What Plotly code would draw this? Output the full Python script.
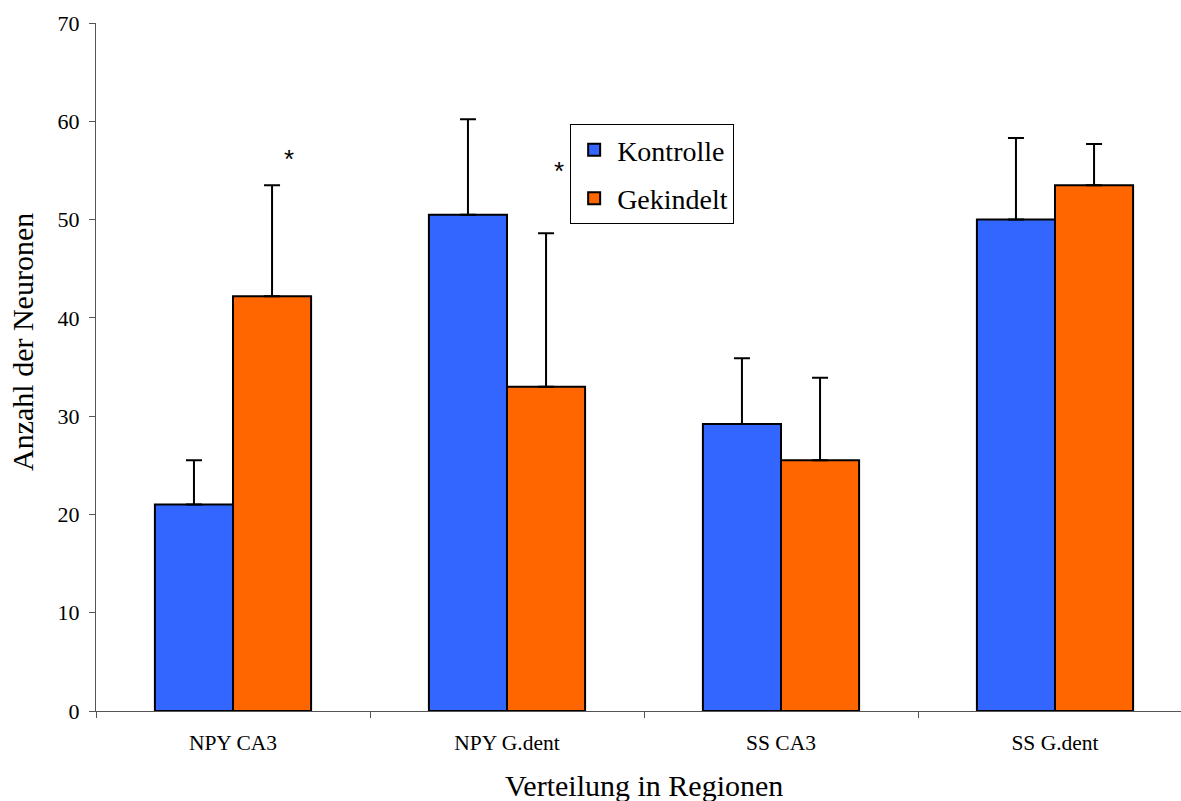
import plotly.graph_objects as go

categories = ["NPY CA3", "NPY G.dent", "SS CA3", "SS G.dent"]
kontrolle = [21.0, 50.5, 29.2, 50.0]
kontrolle_err = [4.5, 9.7, 6.7, 8.3]
gekindelt = [42.2, 33.0, 25.5, 53.5]
gekindelt_err = [11.3, 15.6, 8.4, 4.2]
y_ticks = [0, 10, 20, 30, 40, 50, 60, 70]

FONT = "Liberation Serif"

fig = go.Figure()
fig.add_trace(go.Bar(
    name="Kontrolle", x=categories, y=kontrolle, legendgroup="a",
    marker=dict(color="#3366FF", line=dict(color="black", width=2)),
    error_y=dict(type="data", array=kontrolle_err, arrayminus=[0]*4, symmetric=False,
                 color="black", thickness=2, width=8),
))
fig.add_trace(go.Bar(
    name="Gekindelt", x=categories, y=gekindelt, legendgroup="b",
    marker=dict(color="#FF6600", line=dict(color="black", width=2)),
    error_y=dict(type="data", array=gekindelt_err, arrayminus=[0]*4, symmetric=False,
                 color="black", thickness=2, width=8),
))

fig.add_annotation(x=0.204, y=56.2, text="*", showarrow=False, font=dict(size=26, color="black", family="Liberation Sans"))
fig.add_annotation(x=1.19, y=54.9, text="*", showarrow=False, font=dict(size=26, color="black", family="Liberation Sans"))

# axis titles as annotations (x title centred on the full category axis)
fig.add_annotation(x=1.5, xref="x", y=785, yref="paper", text="Verteilung in Regionen",
                   xanchor="center", yanchor="middle",
                   showarrow=False, font=dict(size=30, family=FONT, color="black"))
fig.add_annotation(x=22, xref="paper", y=342, yref="paper", text="Anzahl der Neuronen",
                   xanchor="center", yanchor="middle",
                   textangle=-90, showarrow=False, font=dict(size=30, family=FONT, color="black"))

# convert pixel positions to paper coordinates
L, R, T, B = 96, 0, 23, 90
pw, ph = 1181 - L - R, 801 - T - B
for a in fig.layout.annotations:
    if a.yref == "paper" and a.y > 1.5:
        a.y = (801 - B - a.y) / ph
    if a.xref == "paper" and a.x > 1.5:
        a.x = (a.x - L) / pw

fig.update_layout(
    width=1181, height=801,
    margin=dict(l=L, r=R, t=T, b=B),
    paper_bgcolor="white", plot_bgcolor="white",
    barmode="group", bargap=0.43, bargroupgap=0,
    font=dict(family=FONT, color="black", size=21),
    showlegend=True,
    legend=dict(x=0.437, y=0.853, xanchor="left", yanchor="top",
                bordercolor="black", borderwidth=1, bgcolor="white",
                font=dict(size=28, family=FONT, color="black"),
                itemwidth=36, traceorder="grouped", tracegroupgap=9),
    xaxis=dict(range=[-0.5, 3.5 - 11/274], showline=True, linecolor="#555", linewidth=1,
               ticks="outside", tickson="boundaries", ticklen=6, tickcolor="#555",
               showgrid=False, tickfont=dict(size=21.5, family=FONT), ticklabelstandoff=12),
    yaxis=dict(range=[0, 70], tickvals=y_ticks, showline=True, linecolor="#555", linewidth=1,
               ticks="outside", ticklen=6, tickcolor="#555", showgrid=False, zeroline=False,
               tickfont=dict(size=22, family=FONT), ticklabelstandoff=5),
)

fig.write_html("out.html")
